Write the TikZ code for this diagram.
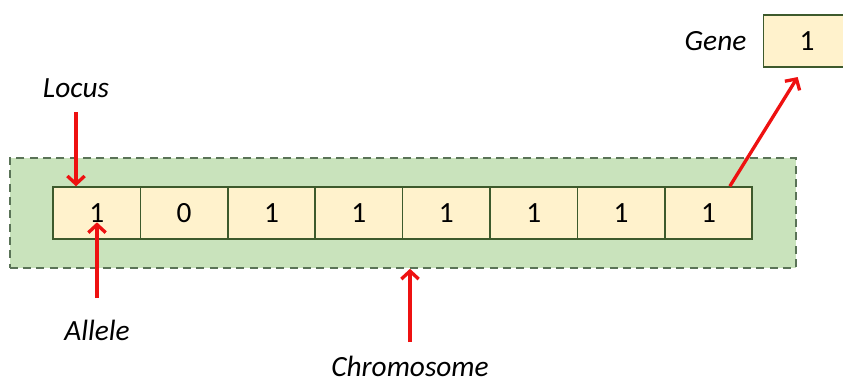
\documentclass[tikz,border=0pt]{standalone}
\usepackage{fontspec}
\setmainfont{Carlito}
\usetikzlibrary{arrows.meta, fit, positioning, backgrounds}

\definecolor{cellfill}{HTML}{FFF2CC}
\definecolor{celledge}{HTML}{3D5A2C}
\definecolor{chromfill}{HTML}{C9E3BC}
\definecolor{chromedge}{HTML}{5A7357}
\definecolor{pointred}{HTML}{EE1111}

\tikzset{
    cell/.style={draw=celledge, fill=cellfill, line width=1.1pt, inner sep=0pt,
        minimum width=65.5pt, minimum height=39pt, font=\fontsize{22}{24}\selectfont},
    chrombox/.style={draw=chromedge, fill=chromfill, line width=1.6pt,
        dash pattern=on 6pt off 4pt},
    tag/.style={inner sep=1pt, font=\fontsize{22}{26}\selectfont\itshape},
    pointer/.style={draw=pointred, line width=2.5pt,
        -{Straight Barb[length=6pt,width=13pt]}},
}

\begin{document}
\begin{tikzpicture}[x=0.75pt, y=-0.75pt]
    \clip (0,0) rectangle (843,385);

    % the chromosome
    \foreach \bit [count=\i] in {1,0,1,1,1,1,1,1}
        \node[cell] (c\i) at ({96.7+87.4*(\i-1)}, 213) {\bit};
    \begin{scope}[on background layer]
        \node[chrombox, fit=(c1)(c8), inner xsep=32pt, inner ysep=21pt] (chrom) {};
    \end{scope}

    % the gene
    \node[cell] (genebox) at (807, 41) {1};
    \node[tag, left=11pt of genebox] (gene) {Gene};

    % labels
    \node[tag] (locus) at (76, 88) {Locus};
    \node[tag] (allele) at (97, 330) {Allele};
    \node[tag] (chromo) at (410, 366) {Chromosome};

    \draw[pointer] ([yshift=-10pt]locus.south) -- (locus.south |- c1.north);
    \draw[pointer] ([yshift=15pt]allele.north) -- ([yshift=-7pt]allele.north |- c1.center);
    \draw[pointer] ([yshift=9pt]chromo.north) -- (chromo.north |- chrom.south);
    \draw[pointer] ([xshift=16pt]c8.north) -- ([xshift=-7pt,yshift=-7pt]genebox.south);
\end{tikzpicture}
\end{document}
